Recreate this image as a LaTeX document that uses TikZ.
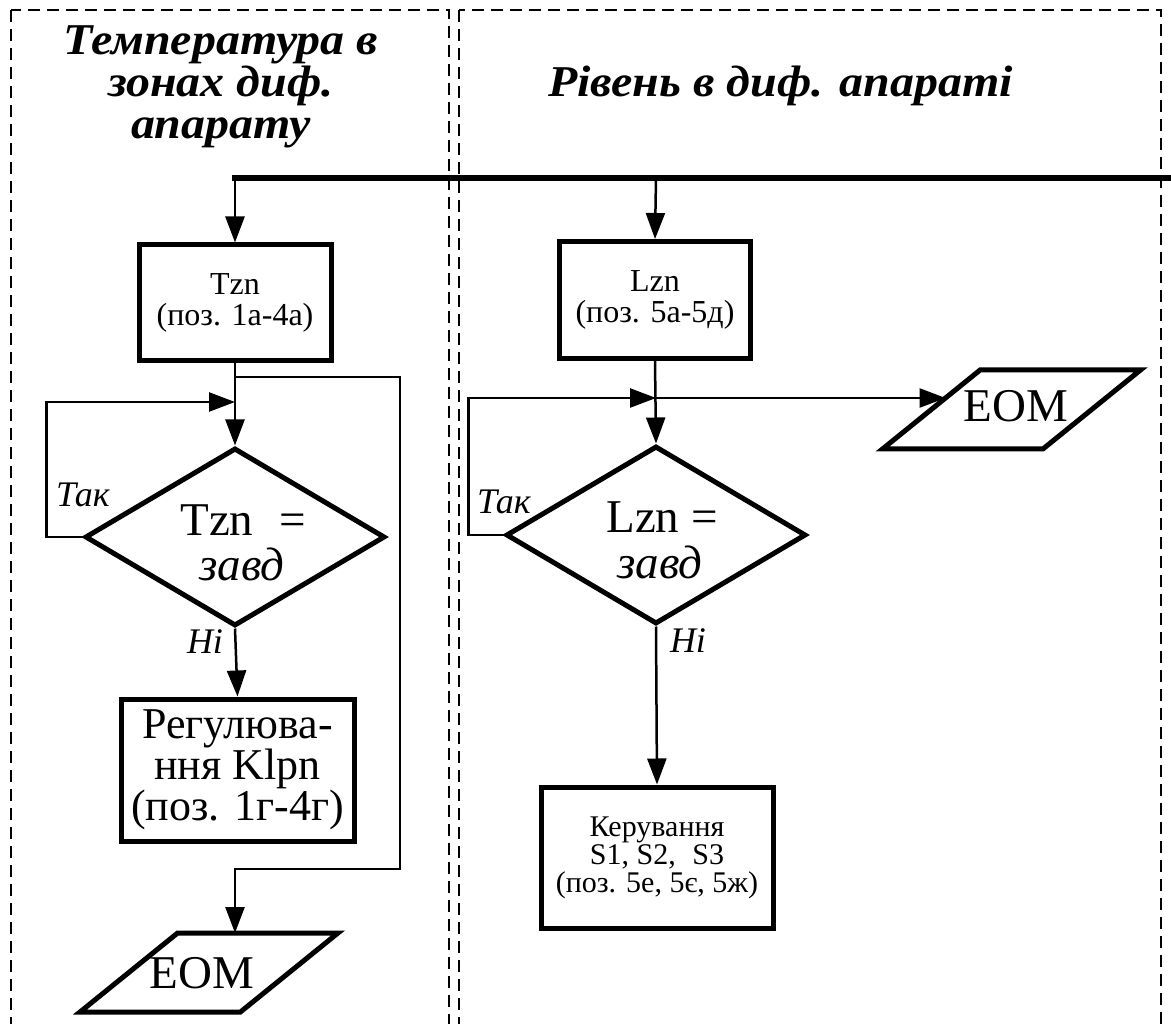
\documentclass[tikz,border=0pt]{standalone}
\usepackage{fontspec}
\setmainfont{Liberation Serif}
\newfontfamily\headfont{Liberation Serif}[FakeStretch=1.09]
\usetikzlibrary{arrows.meta,shapes.geometric,calc}

\begin{document}
\begin{tikzpicture}[x=1pt,y=-1pt,
  frame/.style={draw, line width=1.3pt, dash pattern=on 12pt off 7pt},
  bus/.style={line width=6pt},
  link/.style={line width=2.5pt},
  arr/.style={link, -{Triangle[length=26pt,width=19pt]}},
  procbox/.style={draw, line width=5pt, rectangle, inner sep=0pt, align=center},
  decision/.style={draw, line width=5pt, diamond, inner sep=0pt,
    minimum width=300pt, minimum height=178pt},
  ioshape/.style={draw, line width=5pt, line join=miter},
  heading/.style={font=\headfont\fontsize{44}{42}\selectfont\bfseries\itshape, align=center},
  answer/.style={font=\fontsize{36}{36}\selectfont\itshape, anchor=base},
  cond/.style={font=\fontsize{47}{47}\selectfont, anchor=base},
  iotext/.style={font=\fontsize{47}{47}\selectfont, anchor=base},
]
\clip (0,0) rectangle (1171,1024);

% column frames
\draw[frame] (11,10) rectangle (449,1040);
\draw[frame] (459,10) rectangle (1161,1040);

% column headings
\node[heading] (h1) at (221,87) {Температура в\\зонах диф.\\апарату};
\node[heading, anchor=base] (h2) at (780.5,97) {Рівень в диф. апараті};

% common bus
\coordinate (busL) at (232,178);
\coordinate (busR) at (1180,178);
\draw[bus] (busL) -- (busR);
\coordinate (tapT) at (235,178);
\coordinate (tapL) at (656,178);

% ---------- temperature column ----------
\node[procbox, font=\fontsize{32}{31}\selectfont, minimum width=192pt, minimum height=116pt]
  (tbox) at (235,303) {Tzn\\(поз. 1а-4а)};
\node[decision] (tdia) at (235,537) {};
\node[cond] (tc1) at (243,535) {Tzn\hspace{0.55em}=};
\node[cond] (tc2) at (242,580) {\textit{завд}};
\node[procbox, font=\fontsize{44}{41}\selectfont, minimum width=233pt, minimum height=142pt]
  (treg) at (237.5,770) {Регулюва-\\ння Klpn\\(поз. 1г-4г)};

% output parallelogram (bottom left)
\coordinate (e1c) at (209,972.5);
\coordinate (e1tl) at ($(e1c)+(-31.4,-39.5)$);
\coordinate (e1tr) at ($(e1c)+(129,-39.5)$);
\coordinate (e1br) at ($(e1c)+(31.4,39.5)$);
\coordinate (e1bl) at ($(e1c)+(-129,39.5)$);
\draw[ioshape] (e1tl) -- (e1tr) -- (e1br) -- (e1bl) -- cycle;
\node[iotext] (eom1) at (202,988) {EOM};

\node[answer] (tyes) at (83,506) {Так};
\node[answer] (tno) at (205,653) {Ні};

\coordinate (tsplit) at (235,377);
\coordinate (tjoin) at (235,402);
\coordinate (tbend) at (400,869);

\draw[arr] (tapT) -- (tbox.north);
\draw[arr] (tbox.south) -- (tdia.north);
\draw[arr] (tdia.west) -- ++(-36,0) |- (tjoin);
\draw[arr] (tdia.south) -- (treg.north);
\draw[arr] (tsplit) -| (tbend) -| (tsplit |- e1tl);

% ---------- level column ----------
\node[procbox, font=\fontsize{32}{31}\selectfont, minimum width=191pt, minimum height=117pt]
  (lbox) at (655,300) {Lzn\\(поз. 5а-5д)};
\node[decision] (ldia) at (656,535) {};
\node[cond] (lc1) at (662,532) {Lzn =};
\node[cond] (lc2) at (660,578) {\textit{завд}};
\node[procbox, font=\fontsize{30}{28}\selectfont, minimum width=232pt, minimum height=141pt]
  (lctl) at (657,857.5) {Керування\\S1, S2,\hspace{0.3em} S3\\(поз. 5е, 5є, 5ж)};

% output parallelogram (upper right)
\coordinate (e2c) at (1011.5,409.5);
\coordinate (e2tl) at ($(e2c)+(-31.4,-39.5)$);
\coordinate (e2tr) at ($(e2c)+(129,-39.5)$);
\coordinate (e2br) at ($(e2c)+(31.4,39.5)$);
\coordinate (e2bl) at ($(e2c)+(-129,39.5)$);
\draw[ioshape] (e2tl) -- (e2tr) -- (e2br) -- (e2bl) -- cycle;
\node[iotext] (eom2) at (1016,422) {EOM};

\node[answer] (lyes) at (504,513) {Так};
\node[answer] (lno) at (688,652) {Ні};

\coordinate (ljoin) at (656,398);
\coordinate (lhit) at ($(e2bl)!0.646!(e2tl)$);

\draw[arr] (tapL) -- (lbox.north);
\draw[arr] (lbox.south) -- (ldia.north);
\draw[arr] (ldia.west) -- ++(-35,0) |- (ljoin);
\draw[arr] (ljoin) -- (ljoin -| lhit);
\draw[arr] (ldia.south) -- (lctl.north);
\end{tikzpicture}
\end{document}
